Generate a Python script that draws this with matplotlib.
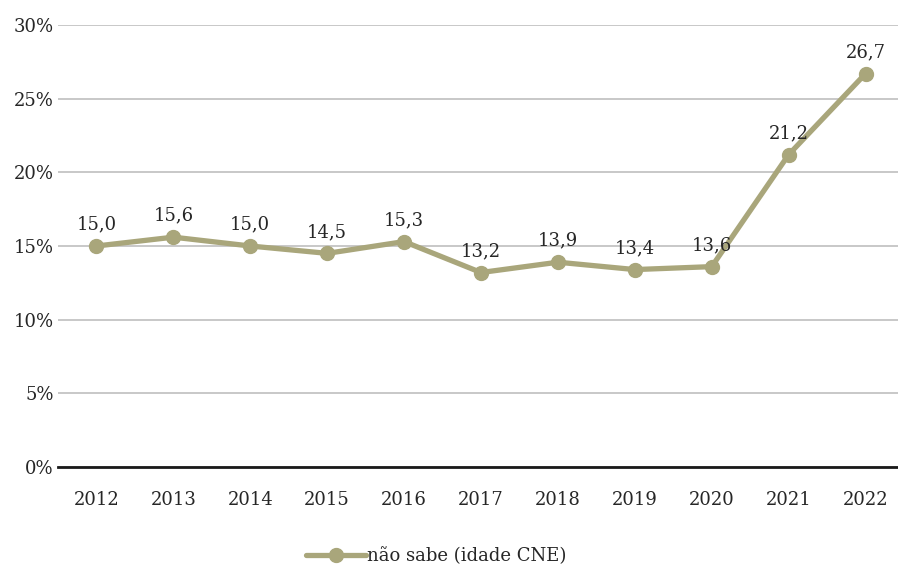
import numpy as np
import matplotlib.pyplot as plt
from matplotlib.ticker import FuncFormatter

# Share answering "don't know" by year
years = ["2012", "2013", "2014", "2015", "2016", "2017", "2018", "2019", "2020", "2021", "2022"]
values = [15.0, 15.6, 15.0, 14.5, 15.3, 13.2, 13.9, 13.4, 13.6, 21.2, 26.7]
series_name = "não sabe (idade CNE)"

line_color = "#a9a67b"
text_color = "#262626"
fs = 13

plt.rcParams['font.family'] = ['DejaVu Serif']
plt.rcParams['font.size'] = fs

fig = plt.figure(figsize=(8.98, 5.65), dpi=100)
ax = fig.add_axes([58/898, 98/565, (904-58)/898, (467-25)/565])

x = np.arange(len(years))
ax.plot(x, values, color=line_color, lw=3.8, marker="o", ms=10,
        solid_capstyle="round", label=series_name, zorder=3, clip_on=False)

for xi, v in zip(x, values):
    ax.annotate(f"{v:.1f}".replace(".", ","), (xi, v), xytext=(0, 9),
                textcoords="offset points", ha="center", va="bottom",
                color=text_color, fontsize=fs)

ax.set_ylim(0, 30)
ax.set_xlim(-0.5, len(years) - 0.5)
ax.set_yticks(range(0, 31, 5))
ax.yaxis.set_major_formatter(FuncFormatter(lambda v, p: f"{int(v)}%"))
ax.set_xticks(x)
ax.set_xticklabels(years)

ax.grid(axis="y", color="#bfbfbf", lw=1.2)
ax.set_axisbelow(True)
for s in ["top", "right", "left"]:
    ax.spines[s].set_visible(False)
ax.spines["bottom"].set_color("#1a1a1a")
ax.spines["bottom"].set_linewidth(2)
ax.tick_params(length=0, colors=text_color, labelsize=fs)
ax.tick_params(axis="y", pad=3)
ax.tick_params(axis="x", pad=17)

fig.legend(loc="center left", bbox_to_anchor=(299/898, 1 - 556/565), frameon=False,
           handlelength=3.3, handletextpad=0.05, fontsize=fs, borderaxespad=0,
           labelcolor=text_color)

fig.savefig("out.png", dpi=100)
